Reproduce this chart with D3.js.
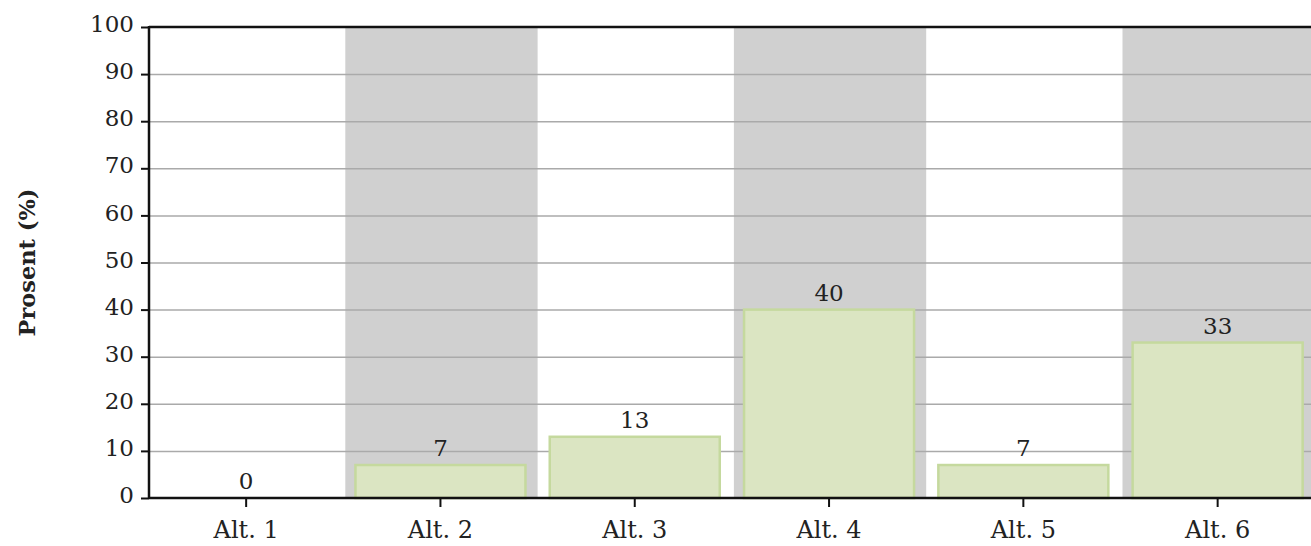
<!DOCTYPE html>
<html lang="no">
<head>
<meta charset="UTF-8">
<title>Prosent</title>
<script src="https://cdn.jsdelivr.net/npm/d3@7"></script>
<style>
    body { margin: 0; background: #fff; }
    text { font-family: "DejaVu Serif", serif; fill: #222; }
</style>
</head>
<body>
<svg width="1311" height="546"></svg>
<script>
    const categories = ["Alt. 1", "Alt. 2", "Alt. 3", "Alt. 4", "Alt. 5", "Alt. 6"]
    const values = [0, 7, 13, 40, 7, 33]
    const yTicks = [0, 10, 20, 30, 40, 50, 60, 70, 80, 90, 100]
    const yTitle = "Prosent (%)"

    const svg = d3.select("svg")
    const plotLeft = 149, plotTop = 27, plotBottom = 498
    const step = 194.3

    const x = d3.scaleBand()
        .domain(categories)
        .range([plotLeft, plotLeft + step * categories.length])
    const y = d3.scaleLinear()
        .domain([0, 100])
        .range([plotBottom, plotTop])

    const plot = svg.append("g")

    // alternating grey bands
    plot.selectAll("rect.band")
        .data(categories.filter((d, i) => i % 2 == 1))
        .enter()
        .append("rect")
        .attr("class", "band")
        .attr("x", d => x(d) + 2)
        .attr("y", plotTop)
        .attr("width", x.bandwidth() - 2)
        .attr("height", plotBottom - plotTop)
        .attr("fill", "#d0d0d0")

    // gridlines
    plot.selectAll("line.grid")
        .data(yTicks.slice(1, -1))
        .enter()
        .append("line")
        .attr("x1", plotLeft)
        .attr("x2", x.range()[1])
        .attr("y1", d => y(d) + 0.5)
        .attr("y2", d => y(d) + 0.5)
        .attr("stroke", "#aaa")
        .attr("stroke-width", 1.5)

    // bars
    const pad = x.bandwidth() * 0.0625
    plot.selectAll("rect.bar")
        .data(values)
        .enter()
        .append("rect")
        .attr("class", "bar")
        .attr("x", (d, i) => x(categories[i]) + pad)
        .attr("y", d => y(d))
        .attr("width", x.bandwidth() - 2 * pad)
        .attr("height", d => y(0) - y(d))
        .attr("fill", d => d > 0 ? "#dbe5c2" : "none")
        .attr("stroke", d => d > 0 ? "#c5d99e" : "none")
        .attr("stroke-width", 2.5)

    // value labels
    plot.selectAll("text.val")
        .data(values)
        .enter()
        .append("text")
        .attr("class", "val")
        .attr("x", (d, i) => x(categories[i]) + x.bandwidth() / 2)
        .attr("y", d => y(d) - 9)
        .attr("text-anchor", "middle")
        .attr("font-size", 23)
        .text(d => d)

    // axes
    const yAxis = svg.append("g")
        .attr("transform", `translate(${plotLeft},0)`)
        .call(d3.axisLeft(y).tickValues(yTicks).tickSize(8).tickPadding(7))
    const xAxis = svg.append("g")
        .attr("transform", `translate(0,${plotBottom})`)
        .call(d3.axisBottom(x).tickSize(9))

    for (const ax of [yAxis, xAxis]) {
        ax.select(".domain").remove()
        ax.selectAll("line").attr("stroke", "#111").attr("stroke-width", 2)
        ax.selectAll("text")
            .attr("font-family", "DejaVu Serif")
            .attr("fill", "#222")
    }
    yAxis.selectAll("text").attr("font-size", 23).attr("dy", "0.2em")
    xAxis.selectAll("text").attr("font-size", 24).attr("y", 40).attr("dy", 0)

    // frame lines
    svg.append("line")
        .attr("x1", plotLeft).attr("x2", plotLeft)
        .attr("y1", plotTop - 1).attr("y2", plotBottom + 1)
        .attr("stroke", "#111").attr("stroke-width", 2.5)
    svg.append("line")
        .attr("x1", plotLeft).attr("x2", 1311)
        .attr("y1", plotBottom).attr("y2", plotBottom)
        .attr("stroke", "#111").attr("stroke-width", 2.5)
    svg.append("line")
        .attr("x1", plotLeft).attr("x2", 1311)
        .attr("y1", plotTop).attr("y2", plotTop)
        .attr("stroke", "#111").attr("stroke-width", 2.5)

    svg.append("text")
        .attr("transform", `translate(35,${(plotTop + plotBottom) / 2}) rotate(-90)`)
        .attr("text-anchor", "middle")
        .attr("font-weight", "bold")
        .attr("font-size", 22.5)
        .text(yTitle)
</script>
</body>
</html>
